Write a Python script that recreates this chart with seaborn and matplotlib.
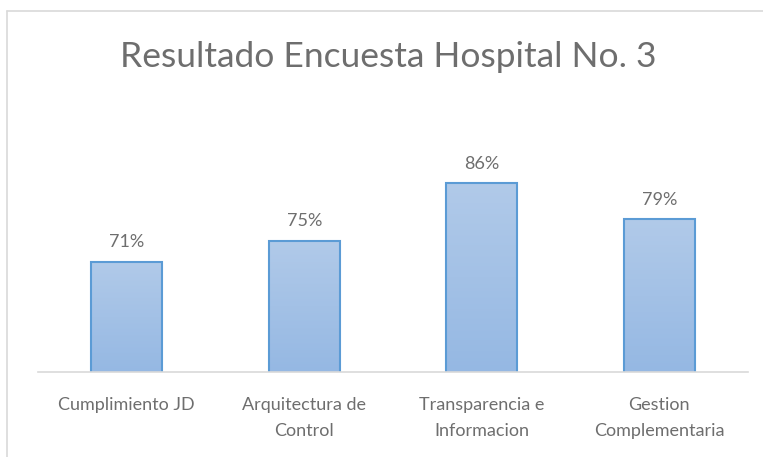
import numpy as np
import pandas as pd
import matplotlib
matplotlib.use('Agg')
import matplotlib.pyplot as plt
import seaborn as sns
from matplotlib.colors import LinearSegmentedColormap
from matplotlib.lines import Line2D

# Chart data
categorias = ['Cumplimiento JD', 'Arquitectura de\nControl',
              'Transparencia e\nInformacion', 'Gestion\nComplementaria']
resultados = [71, 75, 86, 79]
etiquetas = ['71%', '75%', '86%', '79%']

df = pd.DataFrame({'categoria': categorias, 'resultado': resultados})

sns.set_style('white')
plt.rcParams['font.family'] = ['Lato', 'DejaVu Sans']

gris = '#6e6e6e'
fig = plt.figure(figsize=(7.63, 4.57), dpi=100)
ax = fig.add_axes([38 / 763, 85 / 457, 710 / 763, 263 / 457])

sns.barplot(data=df, x='categoria', y='resultado', ax=ax, width=0.4,
            color='#a3c1e6', edgecolor='#5b9bd5', linewidth=1.5)
ax.set_ylim(50, 100)
ax.set_xlim(-0.5, 3.5)

# gradient fill inside each bar (lighter at top)
cmap = LinearSegmentedColormap.from_list('g', ['#95b8e3', '#b1cae9'])
grad = np.linspace(0, 1, 256).reshape(-1, 1)
for p in ax.patches:
    x0, y0 = p.get_x(), p.get_y()
    w, h = p.get_width(), p.get_height()
    im = ax.imshow(grad, cmap=cmap, aspect='auto', origin='lower',
                   extent=[x0, x0 + w, 50, y0 + h], zorder=p.get_zorder() + 0.1)
    im.set_clip_path(p)
    p.set_facecolor('none')
    p.set_zorder(p.get_zorder() + 0.2)

for i, v in enumerate(resultados):
    ax.annotate(etiquetas[i], (i, v), xytext=(0, 8), textcoords='offset points',
                ha='center', va='bottom', fontsize=13, color=gris)

ax.set_xlabel('')
ax.set_ylabel('')
ax.set_yticks([])
ax.tick_params(axis='x', length=0, pad=18, labelsize=13, labelcolor=gris)
for lbl in ax.get_xticklabels():
    lbl.set_linespacing(1.8)
for s in ['top', 'right', 'left']:
    ax.spines[s].set_visible(False)
ax.spines['bottom'].set_color('#d9d9d9')
ax.spines['bottom'].set_linewidth(1.2)

fig.text(388 / 763, 1 - 57 / 457, 'Resultado Encuesta Hospital No. 3',
         ha='center', va='center', fontsize=25.5, color=gris)

# chart area border
fig.add_artist(Line2D([7 / 763, 1], [1 - 11 / 457, 1 - 11 / 457],
                      color='#d9d9d9', lw=1.2, transform=fig.transFigure))
fig.add_artist(Line2D([7 / 763, 7 / 763], [0, 1 - 11 / 457],
                      color='#d9d9d9', lw=1.2, transform=fig.transFigure))

fig.savefig('out.png', dpi=100)
